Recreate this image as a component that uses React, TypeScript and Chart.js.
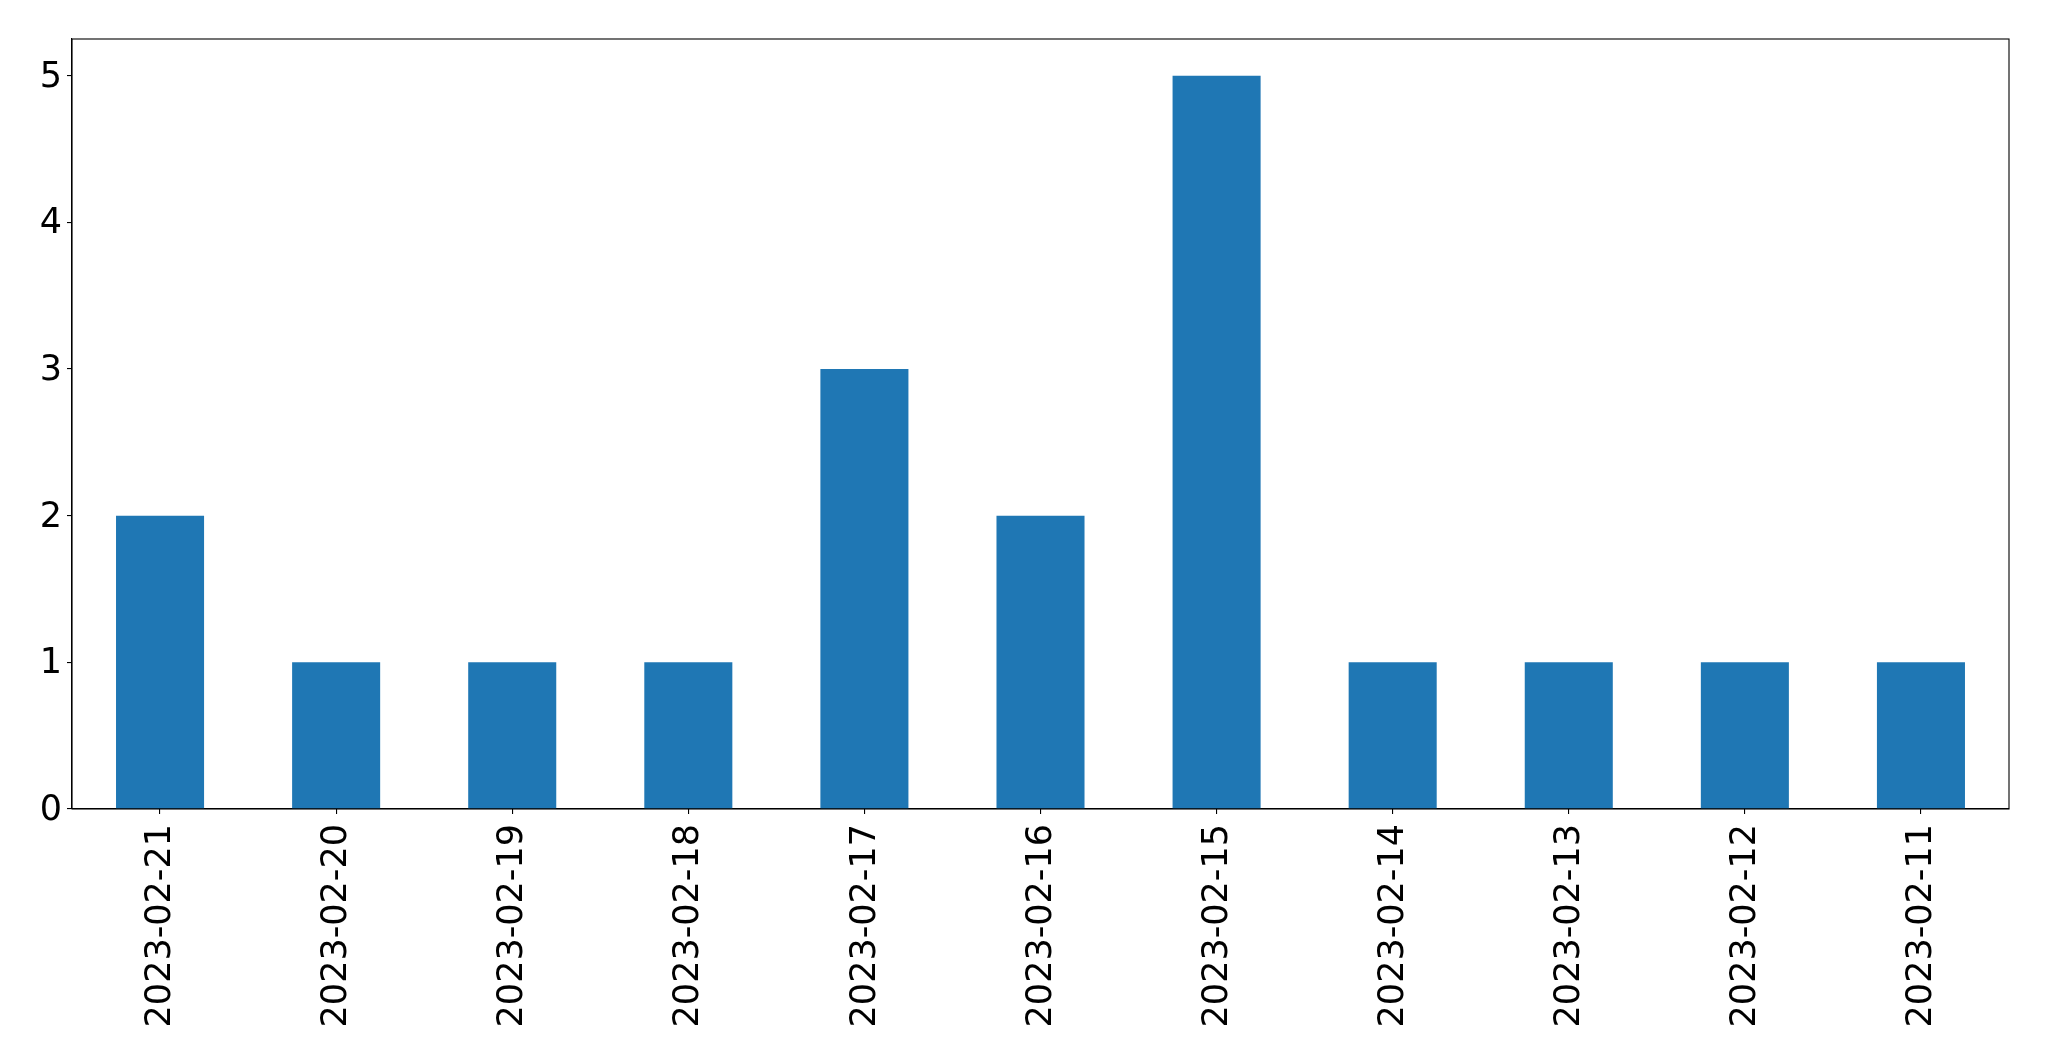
import React, { useEffect, useRef } from "react";
import { Chart, registerables } from "chart.js";

Chart.register(...registerables);

const categories = [
  "2023-02-21", "2023-02-20", "2023-02-19", "2023-02-18", "2023-02-17", "2023-02-16",
  "2023-02-15", "2023-02-14", "2023-02-13", "2023-02-12", "2023-02-11",
];
const counts = [2, 1, 1, 1, 3, 2, 5, 1, 1, 1, 1];
const yMax = 5.25;

const W = 2049;
const H = 1061;
const LEFT = 72;
const TOP = 39;
const RIGHT = 2009;
const BOTTOM = 809;

const frame = {
  id: "frame",
  afterDraw(chart: any) {
    const { ctx, chartArea: a } = chart;
    ctx.save();
    ctx.strokeStyle = "#000";
    ctx.lineWidth = 1.1;
    ctx.strokeRect(a.left, a.top, a.right - a.left, a.bottom - a.top);
    ctx.restore();
  },
};

export default function App() {
  const ref = useRef<HTMLCanvasElement>(null);
  useEffect(() => {
    const font = { family: "'DejaVu Sans'", size: 35 };
    const chart = new Chart(ref.current!, {
      type: "bar",
      data: {
        labels: categories,
        datasets: [
          {
            data: counts,
            backgroundColor: "#1f77b4",
            barPercentage: 0.5,
            categoryPercentage: 1,
          },
        ],
      },
      options: {
        animation: false,
        responsive: false,
        devicePixelRatio: 1,
        layout: { padding: { left: 0, top: TOP, right: W - RIGHT, bottom: 0 } },
        plugins: { legend: { display: false }, tooltip: { enabled: false } },
        scales: {
          x: {
            offset: true,
            grid: { display: true, offset: false, drawOnChartArea: false, drawTicks: true, tickLength: 5, color: "#000", lineWidth: 1.1 },
            border: { display: true, color: "#000", width: 1.1 },
            ticks: { color: "#000", font, minRotation: 90, maxRotation: 90, padding: 10, autoSkip: false, labelOffset: 1 },
            afterFit(s: any) { s.height = H - BOTTOM; },
          },
          y: {
            min: 0,
            max: yMax,
            grid: { display: true, drawOnChartArea: false, drawTicks: true, tickLength: 5, color: "#000", lineWidth: 1.1 },
            border: { display: true, color: "#000", width: 1.1 },
            ticks: { color: "#000", font, stepSize: 1, includeBounds: false, padding: 5, labelOffset: 2 },
            afterFit(s: any) { s.width = LEFT; },
          },
        },
      },
      plugins: [frame],
    });
    return () => chart.destroy();
  }, []);
  return (
    <div style={{ position: "fixed", left: 0, top: 0, width: W, height: H, background: "#fff" }}>
      <canvas ref={ref} width={W} height={H} style={{ width: W, height: H }} />
    </div>
  );
}
